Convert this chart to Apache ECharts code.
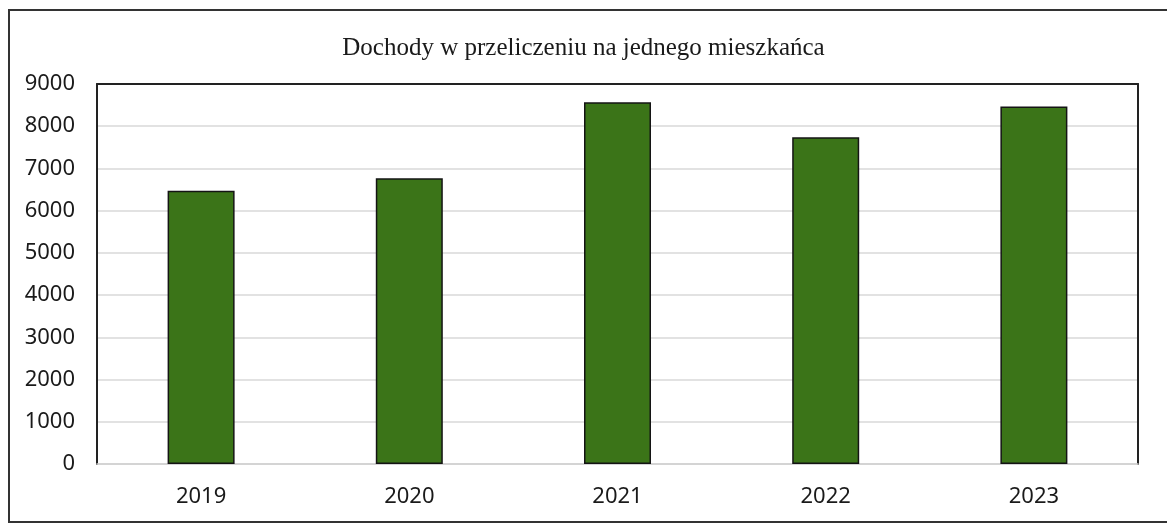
<!DOCTYPE html>
<html>
<head>
<meta charset="utf-8">
<script src="https://cdn.jsdelivr.net/npm/echarts@6/dist/echarts.min.js"></script>
<style>
  html, body { margin: 0; padding: 0; background: #fff; }
  #chart { width: 1167px; height: 526px; }
</style>
</head>
<body>
<div id="chart"></div>
<script>
// dane
const titleText = 'Dochody w przeliczeniu na jednego mieszkańca'
const years = ['2019', '2020', '2021', '2022', '2023']
const incomePerCapita = [6470, 6770, 8570, 7740, 8470]
const yMin = 0
const yMax = 9000
const yStep = 1000

const chart = echarts.init(document.getElementById('chart'))

const option = {
  animation: false,
  backgroundColor: '#fff',
  title: {
    text: titleText,
    left: 'center',
    top: 31,
    textStyle: {
      fontFamily: 'Liberation Serif',
      fontWeight: 'normal',
      fontSize: 25,
      color: '#1a1a1a'
    }
  },
  graphic: [
    {
      // ramka całego wykresu
      type: 'rect',
      shape: { x: 9, y: 10, width: 1175, height: 512 },
      style: { fill: 'none', stroke: '#333', lineWidth: 2 },
      silent: true
    }
  ],
  grid: {
    left: 97,
    right: 29,
    top: 84,
    bottom: 62
  },
  xAxis: [
    {
      type: 'category',
      data: years,
      axisTick: { show: false },
      axisLine: { lineStyle: { color: '#d0d0d0', width: 1.5 } },
      axisLabel: {
        margin: 22,
        fontFamily: 'Noto Sans',
        fontSize: 22,
        color: '#1a1a1a'
      }
    },
    {
      // górna krawędź obszaru wykresu
      type: 'category',
      position: 'top',
      data: years,
      axisTick: { show: false },
      axisLabel: { show: false },
      axisLine: { onZero: false, lineStyle: { color: '#222', width: 2 } }
    }
  ],
  yAxis: [
    {
      type: 'value',
      min: yMin,
      max: yMax,
      interval: yStep,
      axisLine: { show: true, lineStyle: { color: '#222', width: 2 } },
      axisTick: { show: false },
      axisLabel: {
        margin: 22,
        fontFamily: 'Noto Sans',
        fontSize: 22,
        color: '#1a1a1a',
        formatter: v => String(v)
      },
      splitLine: { lineStyle: { color: '#d9d9d9', width: 1.5 } }
    },
    {
      // prawa krawędź obszaru wykresu
      type: 'value',
      position: 'right',
      min: yMin,
      max: yMax,
      interval: yStep,
      axisLine: { show: true, onZero: false, lineStyle: { color: '#222', width: 2 } },
      axisTick: { show: false },
      axisLabel: { show: false },
      splitLine: { show: false }
    }
  ],
  series: [
    {
      type: 'bar',
      data: incomePerCapita,
      barWidth: 67,
      itemStyle: {
        color: '#3b7418',
        borderColor: '#141414',
        borderWidth: 1.5
      }
    }
  ]
}

chart.setOption(option)

window.addEventListener('resize', () => {
  chart.resize()
})
</script>
</body>
</html>
